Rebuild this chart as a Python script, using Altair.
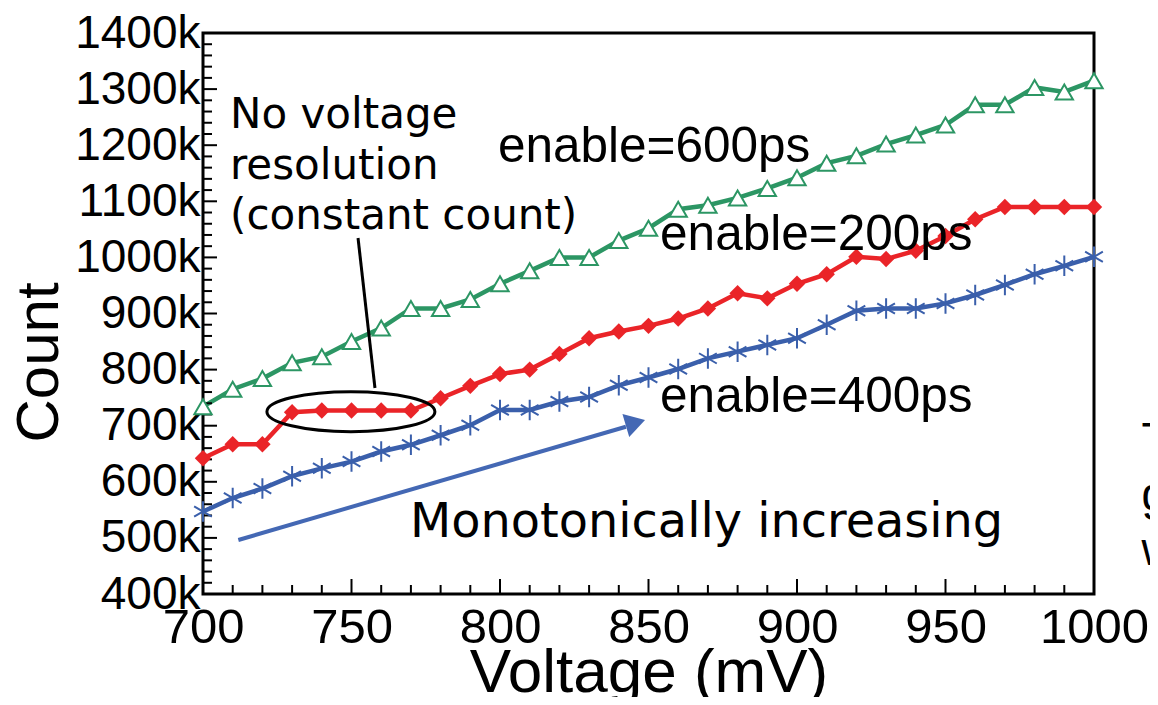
import altair as alt
import pandas as pd

# ---------------- data ----------------
voltage = [700, 710, 720, 730, 740, 750, 760, 770, 780, 790, 800,
           810, 820, 830, 840, 850, 860, 870, 880, 890, 900,
           910, 920, 930, 940, 950, 960, 970, 980, 990, 1000]

count_600ps = [734, 765, 784, 812, 823, 850, 874, 909, 909, 925, 953,
               976, 1000, 1000, 1030, 1052, 1086, 1093, 1106, 1123, 1142,
               1168, 1181, 1202, 1218, 1236, 1272, 1272, 1303, 1295, 1315]

count_200ps = [642, 667, 667, 724, 727, 727, 727, 727, 749, 771, 792,
               800, 828, 856, 868, 878, 891, 909, 936, 927, 953,
               970, 1001, 997, 1012, 1038, 1068, 1090, 1090, 1090, 1090]

count_400ps = [547, 571, 588, 610, 624, 636, 654, 666, 683, 701, 728,
               728, 743, 751, 772, 786, 801, 820, 832, 844, 856,
               880, 905, 909, 909, 918, 933, 951, 970, 985, 1001]

series_names = ["600ps", "200ps", "400ps"]
series_colors = ["#2c9664", "#ea2428", "#3a5fab"]

x_tick_values = [700, 750, 800, 850, 900, 950, 1000]
y_tick_values = [400, 500, 600, 700, 800, 900, 1000, 1100, 1200, 1300, 1400]
x_minor_values = [700, 710, 720, 730, 740, 750, 760, 770, 780, 790, 800,
                  810, 820, 830, 840, 850, 860, 870, 880, 890, 900,
                  910, 920, 930, 940, 950, 960, 970, 980, 990, 1000]
y_minor_values = list(range(400, 1401, 20))

# annotation texts
label_texts = ["enable=600ps", "enable=200ps", "enable=400ps"]
label_x = [799.3, 853.9, 853.9]
label_y = [1170, 1013, 725]

note_texts = ["No voltage", "resolution", "(constant count)"]
note_x = [709.1, 709.1, 709.1]
note_y = [1231, 1140, 1051]

mono_text = ["Monotonically increasing"]
mono_x = [769.7]
mono_y = [502]

edge_texts = ["T", "g", "w"]
edge_x = [1016.0, 1016.0, 1016.0]
edge_y = [648, 550, 452]

# ---------------- build tables ----------------
rows = []
for name, vals in zip(series_names, [count_600ps, count_200ps, count_400ps]):
    for v, c in zip(voltage, vals):
        rows.append({"voltage": v, "count": c, "series": name})
df = pd.DataFrame(rows)

XS = alt.Scale(domain=[700, 1000], nice=False, zero=False)
YS = alt.Scale(domain=[400, 1400], nice=False, zero=False)

SANS = "Liberation Sans, Arial"
DEJAVU = "DejaVu Sans, Verdana"

x_axis = alt.Axis(values=x_tick_values, tickSize=0, domain=False, grid=False,
                  format="d",
                  labelFont=SANS, labelFontSize=49, labelPadding=9,
                  labelColor="black", labelFlush=False, labelOverlap=False,
                  title="Voltage (mV)", titleFont=SANS, titleFontSize=62,
                  titleFontWeight="normal", titleColor="black",
                  titleBaseline="alphabetic", titleY=97)
y_axis = alt.Axis(values=y_tick_values, tickSize=0, domain=False, grid=False,
                  labelExpr="datum.value + 'k'",
                  labelFont=SANS, labelFontSize=46, labelPadding=3,
                  labelColor="black", labelFlush=False, labelOverlap=False,
                  title="Count", titleFont=SANS, titleFontSize=60,
                  titleFontWeight="normal", titleColor="black", titlePadding=4,
                  titleY=329)


def X(field):
    return alt.X(field, scale=XS, axis=x_axis, title="Voltage (mV)")


def Y(field):
    return alt.Y(field, scale=YS, axis=y_axis, title="Count")


color = alt.Color("series:N", scale=alt.Scale(domain=series_names, range=series_colors),
                  legend=None)

lines = alt.Chart(df).mark_line(strokeWidth=4.5).encode(
    x=X("voltage:Q"), y=Y("count:Q"), color=color,
)


def pts(series):
    return alt.Chart(df).transform_filter(alt.datum.series == series).encode(
        x=X("voltage:Q"), y=Y("count:Q"))


green_pts = pts("600ps").mark_point(shape="triangle-up", size=300, filled=True,
                                    fill="white", stroke=series_colors[0],
                                    strokeWidth=2, opacity=1)
red_pts = pts("200ps").mark_point(shape="diamond", size=270, filled=True,
                                  color=series_colors[1], opacity=1)
blue_pts = pts("400ps").mark_point(
    shape="M 0 -1 L 0 1 M -0.866 -0.5 L 0.866 0.5 M -0.866 0.5 L 0.866 -0.5",
    size=420, filled=False, stroke=series_colors[2], strokeWidth=2, opacity=1)


# ----- inward tick marks -----
def yticks(vals, length):
    return alt.Chart(pd.DataFrame({"v": vals})).mark_rule(color="black", strokeWidth=2).encode(
        y=Y("v:Q"), x=alt.value(0), x2=alt.value(length))


def xticks(vals, length):
    return alt.Chart(pd.DataFrame({"v": vals})).mark_rule(color="black", strokeWidth=2).encode(
        x=X("v:Q"), y=alt.value(561), y2=alt.value(561 - length))


# ----- annotations -----
def texts(xs, ys, ts, font, size):
    d = pd.DataFrame({"x": xs, "y": ys, "t": ts})
    return alt.Chart(d).mark_text(align="left", baseline="alphabetic", font=font,
                                  fontSize=size, color="black").encode(
        x=X("x:Q"), y=Y("y:Q"), text="t:N")


labels_layer = texts(label_x, label_y, label_texts, SANS, 49.5)
notes_layer = texts(note_x, note_y, note_texts, DEJAVU, 42)
mono_layer = texts(mono_x, mono_y, mono_text, DEJAVU, 47.8)
edge_layer = texts(edge_x, edge_y, edge_texts, SANS, 46)

pointer = alt.Chart(pd.DataFrame({"x": [752.2], "y": [1034.6], "x2": [757.9], "y2": [767.2]})).mark_rule(
    color="black", strokeWidth=3).encode(
    x=X("x:Q"), y=Y("y:Q"), x2="x2:Q", y2="y2:Q")

ellipse = alt.Chart(pd.DataFrame({"x": [749.8], "y": [725]})).mark_point(
    shape="M -1 0 A 1 0.238 0 1 1 1 0 A 1 0.238 0 1 1 -1 0 Z",
    size=28224, filled=False, stroke="black", strokeWidth=3, opacity=1).encode(
    x=X("x:Q"), y=Y("y:Q"))

arrow_line = alt.Chart(pd.DataFrame({"x": [711.9], "y": [496.3], "x2": [842.4], "y2": [698.2]})).mark_rule(
    color="#4468b4", strokeWidth=4).encode(
    x=X("x:Q"), y=Y("y:Q"), x2="x2:Q", y2="y2:Q")

arrow_head = alt.Chart(pd.DataFrame({"x": [845.6], "y": [705.2]})).mark_point(
    shape="M 1 0 L -1 -1.2 L -1 1.2 Z", size=400, filled=True, color="#4468b4",
    angle=343.6, opacity=1).encode(
    x=X("x:Q"), y=Y("y:Q"))

chart = alt.layer(
    lines,
    yticks([v for v in y_minor_values if v % 100 != 0], 9),
    yticks(y_tick_values, 14),
    xticks([v for v in x_minor_values if v % 50 != 0], 9),
    xticks(x_tick_values, 15),
    green_pts, red_pts, blue_pts,
    ellipse, pointer, arrow_line, arrow_head,
    labels_layer, notes_layer, mono_layer, edge_layer,
).properties(
    width=891, height=561,
    autosize=alt.AutoSizeParams(type="none"),
    padding={"left": 195, "top": 25, "right": 56, "bottom": 103},
    background="white",
).configure_view(stroke="black", strokeWidth=3)

chart.save("out.html", embed_options={"renderer": "svg", "actions": False})
